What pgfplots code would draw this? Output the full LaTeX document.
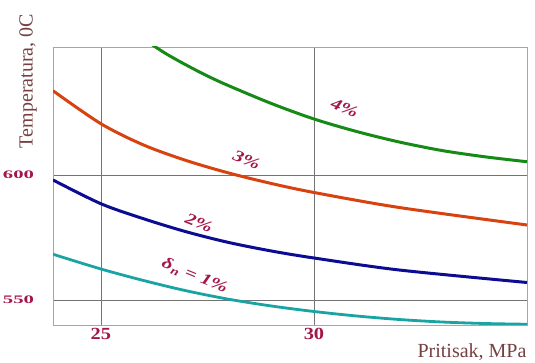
\documentclass[border=0pt]{standalone}
\usepackage{fontspec}
\setmainfont{Liberation Serif}
\usepackage{pgfplots}
\pgfplotsset{compat=1.18}
\definecolor{cgreen}{HTML}{158A15}
\definecolor{corange}{HTML}{D8420E}
\definecolor{cblue}{HTML}{0C0C92}
\definecolor{cteal}{HTML}{19A3A3}
\definecolor{tickred}{HTML}{A3164A}
\definecolor{labbrown}{HTML}{764040}
\begin{document}
\begin{tikzpicture}
\path[use as bounding box] (0pt,0pt) rectangle (535pt,363pt);
\begin{axis}[
  at={(53pt,38pt)}, anchor=south west,
  scale only axis, width=474pt, height=278pt,
  xmin=23.875, xmax=35, ymin=540, ymax=651.2,
  xtick={25,30}, ytick={550,600},
  grid=major,
  major grid style={draw=black!55, line width=0.6pt},
  axis line style={draw=black!35, line width=0.8pt},
  tick style={draw=none},
  /pgf/number format/assume math mode=true,
  xticklabel style={font=\fontsize{17}{17}\selectfont\bfseries, text=tickred, xscale=1.2, yshift=0pt},
  yticklabel style={font=\fontsize{11.5}{11.5}\selectfont\bfseries, text=tickred, xscale=1.8, xshift=-7pt},
  every axis plot/.append style={line width=3pt, smooth, no markers},
  clip=true,
]
\addplot[cgreen] coordinates {(25.9,655.5) (26.5,648.8) (27,644) (27.5,639.6) (28,635.7) (29,628.6) (30,622.4) (31,617.4) (32,613.2) (33,609.8) (34,607.3) (35,605.3)};
\addplot[corange] coordinates {(23.875,633.7) (25,620.5) (26,612) (27,605.8) (28,600.8) (29,596.6) (30,593) (32,587) (35,580)};
\addplot[cblue] coordinates {(23.875,598) (25,588.5) (26,582.5) (27,577.3) (28,573) (29,569.6) (30,566.8) (32,562) (35,557)};
\addplot[cteal, line width=2.8pt] coordinates {(23.875,568.3) (25,562.4) (26,557.8) (27,553.7) (28,550.3) (29,547.6) (30,545.4) (31,543.6) (32,542.2) (33,541.2) (34,540.6) (35,540.3)};
\begin{scope}[every node/.style={font=\fontsize{16}{16}\selectfont\bfseries\itshape, text=tickred, rotate=-22}]
\node at (axis cs:30.72,626.8) {\scalebox{1.3}[1]{4\%}};
\node at (axis cs:28.42,606) {\scalebox{1.3}[1]{3\%}};
\node at (axis cs:27.3,581) {\scalebox{1.3}[1]{2\%}};
\node at (axis cs:27.2,559.6) {\scalebox{1.3}[1]{δ\textsubscript{n} = 1\%}};
\end{scope}
\end{axis}
\node[rotate=90, font=\fontsize{20}{20}\selectfont, text=labbrown] at (28pt,282pt) {Temperatura, 0C};
\node[font=\fontsize{20}{20}\selectfont, text=labbrown] at (472pt,11pt) {Pritisak, MPa};
\end{tikzpicture}
\end{document}
